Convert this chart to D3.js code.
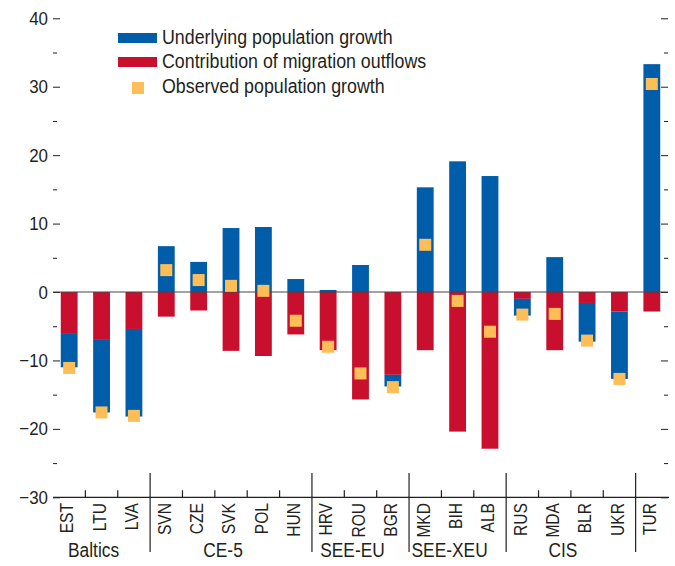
<!DOCTYPE html>
<html><head><meta charset="utf-8">
<script src="https://cdn.jsdelivr.net/npm/d3@7"></script>
<style>
body{margin:0;background:#fff;}
text{font-family:"Liberation Sans",Arial,sans-serif;fill:#231f20;}
</style></head>
<body><svg id="c" width="675" height="566"></svg>
<script>
const categories = ["EST","LTU","LVA","SVN","CZE","SVK","POL","HUN","HRV","ROU","BGR","MKD","BIH","ALB","RUS","MDA","BLR","UKR","TUR"];
const groups = ["Baltics","Baltics","Baltics","CE-5","CE-5","CE-5","CE-5","CE-5","SEE-EU","SEE-EU","SEE-EU","SEE-XEU","SEE-XEU","SEE-XEU","CIS","CIS","CIS","CIS",""];
const underlying = [-5.0,-10.6,-12.8,6.7,4.4,9.35,9.5,1.9,0.3,3.95,-1.7,15.3,19.1,16.95,-2.45,5.1,-5.65,-9.85,33.3];
const migration = [-6.0,-7.0,-5.4,-3.6,-2.7,-8.6,-9.35,-6.2,-8.5,-15.7,-12.1,-8.5,-20.4,-22.9,-1.0,-8.5,-1.6,-2.85,-2.85];
const observed = [-11.1,-17.6,-18.1,3.2,1.75,0.9,0.17,-4.2,-8.0,-11.9,-13.9,6.9,-1.3,-5.8,-3.3,-3.2,-7.1,-12.7,30.4];
const majorTicks = [40,30,20,10,0,-10,-20,-30];
const minorTicks = [35,25,15,5,-5,-15,-25];
const legendLabels = ["Underlying population growth","Contribution of migration outflows","Observed population growth"];

const BLUE="#005DAA", RED="#C8102E", YEL="#FDBE57", INK="#231f20";
const svg = d3.select("#c");
const L=53, R=668, T=18.3, B=497.3;
const x = d3.scaleBand().domain(categories).range([L,R]).paddingInner(0.48).paddingOuter(0.24);
const y = d3.scaleLinear().domain([-30,40]).range([B,T]);

// left axis
const gl = svg.append("g").attr("transform",`translate(${L},0)`)
  .call(d3.axisLeft(y).tickValues(majorTicks).tickSize(-7).tickPadding(5));
gl.select(".domain").remove();
gl.selectAll("text").style("font-size","19px").attr("fill",INK);
gl.selectAll("line").attr("stroke",INK);
const glm = svg.append("g").attr("transform",`translate(${L},0)`)
  .call(d3.axisLeft(y).tickValues(minorTicks).tickSize(-4).tickFormat(""));
glm.select(".domain").remove(); glm.selectAll("line").attr("stroke",INK);
// right axis
const gr = svg.append("g").attr("transform",`translate(${R},0)`)
  .call(d3.axisRight(y).tickValues(majorTicks).tickSize(-7).tickFormat(""));
gr.select(".domain").remove(); gr.selectAll("line").attr("stroke",INK);
const grm = svg.append("g").attr("transform",`translate(${R},0)`)
  .call(d3.axisRight(y).tickValues(minorTicks).tickSize(-4).tickFormat(""));
grm.select(".domain").remove(); grm.selectAll("line").attr("stroke",INK);

const data = categories.map((c,i)=>({c,u:underlying[i],m:migration[i],o:observed[i]}));
// red bars
svg.append("g").selectAll("rect").data(data).join("rect")
  .attr("x",d=>x(d.c)).attr("width",x.bandwidth())
  .attr("y",d=>y(0)).attr("height",d=>y(d.m)-y(0)).attr("fill",RED);
// blue bars
svg.append("g").selectAll("rect").data(data).join("rect")
  .attr("x",d=>x(d.c)).attr("width",x.bandwidth())
  .attr("y",d=>d.u>=0?y(d.u):y(d.m))
  .attr("height",d=>d.u>=0?y(0)-y(d.u):y(d.m+d.u)-y(d.m)).attr("fill",BLUE);
// zero line
svg.append("line").attr("x1",L).attr("x2",R).attr("y1",y(0)).attr("y2",y(0)).attr("stroke","#444").attr("stroke-width",1);
// observed squares
const S=12;
svg.append("g").selectAll("rect").data(data).join("rect")
  .attr("x",d=>x(d.c)+x.bandwidth()/2-S/2).attr("y",d=>y(d.o)-S/2)
  .attr("width",S).attr("height",S).attr("fill",YEL);

// bottom axis
svg.append("line").attr("x1",L).attr("x2",R+1).attr("y1",B).attr("y2",B).attr("stroke",INK).attr("stroke-width",1.2);
const step = x.step();
categories.forEach((c,i)=>{
  if(i===0) return;
  const xb = x(c) - (step - x.bandwidth())/2;
  const sep = groups[i]!==groups[i-1];
  svg.append("line").attr("x1",xb).attr("x2",xb)
    .attr("y1",sep?473:B-7).attr("y2",sep?552:B).attr("stroke",INK).attr("stroke-width",1.2);
});
svg.append("g").selectAll("text").data(categories).join("text")
  .attr("transform",d=>`translate(${x(d)+x.bandwidth()/2+4.3},503) rotate(-90)`)
  .attr("text-anchor","end").style("font-size","17.5px").text(d=>d);
// group labels
const gnames = Array.from(new Set(groups)).filter(g=>g);
gnames.forEach(g=>{
  const idx = groups.map((v,i)=>v===g?i:-1).filter(i=>i>=0);
  const cx = (x(categories[idx[0]]) + x(categories[idx[idx.length-1]]) + x.bandwidth())/2;
  svg.append("text").attr("x",cx-8).attr("y",557).attr("text-anchor","middle").style("font-size","19.5px").text(g);
});

// legend
const lg = svg.append("g");
lg.append("rect").attr("x",118).attr("y",33).attr("width",39).attr("height",10).attr("fill",BLUE);
lg.append("rect").attr("x",118).attr("y",57).attr("width",39).attr("height",10).attr("fill",RED);
lg.append("rect").attr("x",132).attr("y",82).attr("width",12).attr("height",12).attr("fill",YEL);
legendLabels.forEach((t,i)=>{
  lg.append("text").attr("x",162).attr("y",44+i*24.3).style("font-size","20px").text(t);
});

// condensed look: compress glyphs horizontally
svg.selectAll("text").each(function(){
  const w = this.getComputedTextLength();
  if(w>0){ this.setAttribute("textLength", (w*0.89).toFixed(2)); this.setAttribute("lengthAdjust","spacingAndGlyphs"); }
});
</script></body></html>
